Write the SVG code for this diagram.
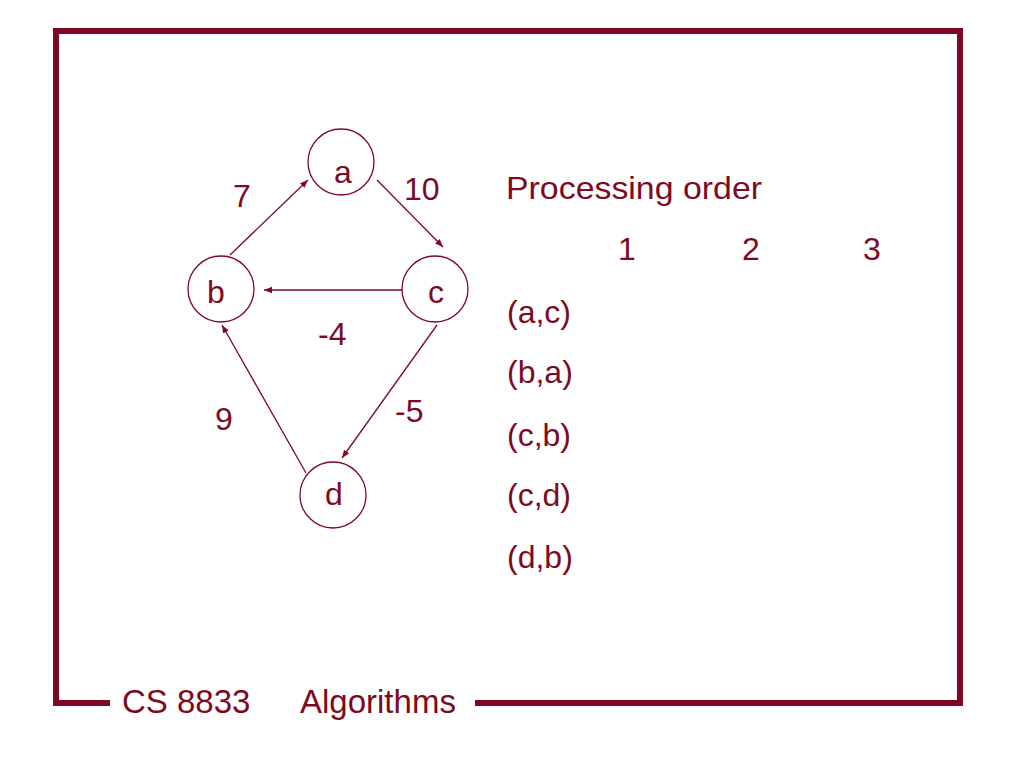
<svg xmlns="http://www.w3.org/2000/svg" width="1024" height="768" viewBox="0 0 1024 768">
<style>
text{font-family:"Liberation Sans",Arial,sans-serif;fill:#7d0a22;font-size:32px}
.foot{font-size:33px}
.frame{fill:none;stroke:#7d0a22;stroke-width:6}
.node circle{fill:#fff;stroke:#7d0a22;stroke-width:1.3}
.edge{stroke:#7d0a22;stroke-width:1.3;fill:none;marker-end:url(#arr)}
</style>
<defs>
<marker id="arr" viewBox="0 0 10 10" refX="10" refY="5" markerWidth="8" markerHeight="8" markerUnits="userSpaceOnUse" orient="auto">
<path d="M0,1 L10,5 L0,9 z" fill="#7d0a22"/>
</marker>
</defs>
<rect width="1024" height="768" fill="#fff"/>
<g id="frame">
<polyline class="frame" points="110,703 56,703 56,31 960,31 960,703 475,703"/>
<text class="foot" x="122" y="713">CS 8833</text>
<text class="foot" x="300" y="713">Algorithms</text>
</g>
<g id="connectors">
<line class="edge" x1="230" y1="255" x2="308" y2="180"/>
<line class="edge" x1="377" y1="180" x2="443" y2="247"/>
<line class="edge" x1="402" y1="290" x2="264" y2="290"/>
<line class="edge" x1="437" y1="325" x2="342" y2="458"/>
<line class="edge" x1="306" y1="473" x2="222" y2="325"/>
<text x="233" y="207">7</text>
<text x="404" y="200">10</text>
<text x="318" y="345">-4</text>
<text x="395" y="422">-5</text>
<text x="215" y="430">9</text>
</g>
<g id="node-a" class="node"><circle cx="341" cy="162" r="33"/><text x="343" y="183" text-anchor="middle">a</text></g>
<g id="node-b" class="node"><circle cx="221" cy="289" r="33"/><text x="216" y="303" text-anchor="middle">b</text></g>
<g id="node-c" class="node"><circle cx="435" cy="289" r="33"/><text x="436" y="303" text-anchor="middle">c</text></g>
<g id="node-d" class="node"><circle cx="333" cy="495" r="33"/><text x="334" y="505" text-anchor="middle">d</text></g>
<g id="table">
<text x="506" y="199" textLength="256" lengthAdjust="spacingAndGlyphs">Processing order</text>
<text x="618" y="260">1</text>
<text x="742" y="260">2</text>
<text x="863" y="260">3</text>
<text x="507" y="323">(a,c)</text>
<text x="507" y="383">(b,a)</text>
<text x="507" y="446">(c,b)</text>
<text x="507" y="506">(c,d)</text>
<text x="507" y="568">(d,b)</text>
</g>
</svg>
